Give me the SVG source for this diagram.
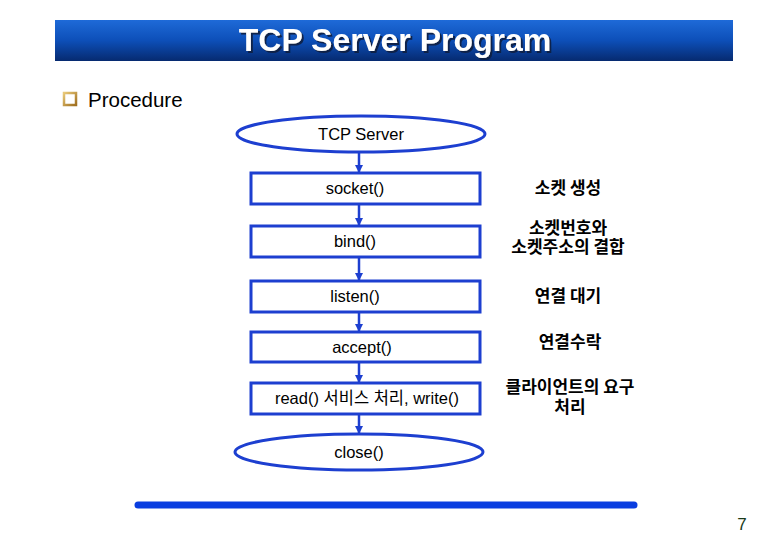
<svg xmlns="http://www.w3.org/2000/svg" width="780" height="540" viewBox="0 0 780 540">
<defs>
<linearGradient id="tg" x1="0" y1="0" x2="0" y2="1">
<stop offset="0" stop-color="#1e6ad8"/>
<stop offset="0.5" stop-color="#0d4fb8"/>
<stop offset="1" stop-color="#062a70"/>
</linearGradient>
<filter id="sh" x="-10%" y="-30%" width="120%" height="160%">
<feDropShadow dx="2" dy="2" stdDeviation="0.6" flood-color="#0a1a40" flood-opacity="0.9"/>
</filter>
<marker id="ah" markerWidth="8" markerHeight="8" refX="7" refY="4" orient="auto" markerUnits="userSpaceOnUse">
<path d="M0,0 L8,4 L0,8 Z" fill="#1d3fd0"/>
</marker>
<linearGradient id="cb" x1="0" y1="0" x2="1" y2="1">
<stop offset="0" stop-color="#e8c878"/>
<stop offset="1" stop-color="#a07020"/>
</linearGradient>
</defs>
<style>
.nd{fill:#fff;stroke:#1d3fd0;stroke-width:3}
.t{font-family:Arial,"Liberation Sans","Noto Sans CJK KR",sans-serif;font-size:16.5px;fill:#000;text-anchor:middle}
.k{font-family:"Noto Sans CJK KR","Liberation Sans",sans-serif;font-size:17px;font-weight:bold;fill:#000;text-anchor:middle}
.c{stroke:#1d3fd0;stroke-width:2.5;fill:none}
</style>
<rect width="780" height="540" fill="#fff"/>
<g id="title">
<rect x="55" y="20" width="678" height="41" fill="url(#tg)"/>
<text x="395" y="51" font-family="Arial,'Liberation Sans',sans-serif" font-size="32" font-weight="bold" fill="#fff" text-anchor="middle" filter="url(#sh)">TCP Server Program</text>
</g>
<g id="procedure">
<rect x="64" y="93" width="12" height="12" fill="#fff" stroke="url(#cb)" stroke-width="2.5"/>
<text x="88" y="107" font-family="Arial,'Liberation Sans',sans-serif" font-size="20.5" fill="#000">Procedure</text>
</g>
<g id="connectors">
<line class="c" x1="359" y1="153" x2="359" y2="172" marker-end="url(#ah)"/>
<line class="c" x1="359" y1="205" x2="359" y2="225" marker-end="url(#ah)"/>
<line class="c" x1="359" y1="258" x2="359" y2="280" marker-end="url(#ah)"/>
<line class="c" x1="359" y1="313" x2="359" y2="331" marker-end="url(#ah)"/>
<line class="c" x1="359" y1="363" x2="359" y2="382" marker-end="url(#ah)"/>
<line class="c" x1="359" y1="415" x2="359" y2="433" marker-end="url(#ah)"/>
</g>
<g id="n-start">
<ellipse class="nd" cx="361" cy="134" rx="124" ry="18"/>
<text class="t" x="361" y="140">TCP Server</text>
</g>
<g id="n-socket">
<rect class="nd" x="251" y="173" width="229" height="31"/>
<text class="t" x="355" y="194">socket()</text>
</g>
<g id="n-bind">
<rect class="nd" x="251" y="226" width="229" height="31"/>
<text class="t" x="355" y="247">bind()</text>
</g>
<g id="n-listen">
<rect class="nd" x="251" y="281" width="229" height="31"/>
<text class="t" x="355" y="302">listen()</text>
</g>
<g id="n-accept">
<rect class="nd" x="251" y="332" width="229" height="30"/>
<text class="t" x="362" y="353">accept()</text>
</g>
<g id="n-read">
<rect class="nd" x="251" y="383" width="229" height="31"/>
<text class="t" x="367" y="404">read() 서비스 처리, write()</text>
</g>
<g id="n-close">
<ellipse class="nd" cx="359" cy="452" rx="124" ry="18"/>
<text class="t" x="359" y="458">close()</text>
</g>
<g id="labels">
<text class="k" x="568" y="194">소켓 생성</text>
<text class="k" x="568" y="234">소켓번호와<tspan x="568" dy="19">소켓주소의 결합</tspan></text>
<text class="k" x="568" y="302">연결 대기</text>
<text class="k" x="570" y="348">연결수락</text>
<text class="k" x="570" y="393">클라이언트의 요구<tspan x="570" dy="20">처리</tspan></text>
</g>
<g id="footer">
<line x1="138" y1="505" x2="634" y2="505" stroke="#0a3ee0" stroke-width="7" stroke-linecap="round"/>
<text x="742" y="530" font-family="'Liberation Sans',sans-serif" font-size="17" fill="#1a3a1a" text-anchor="middle">7</text>
</g>
</svg>
